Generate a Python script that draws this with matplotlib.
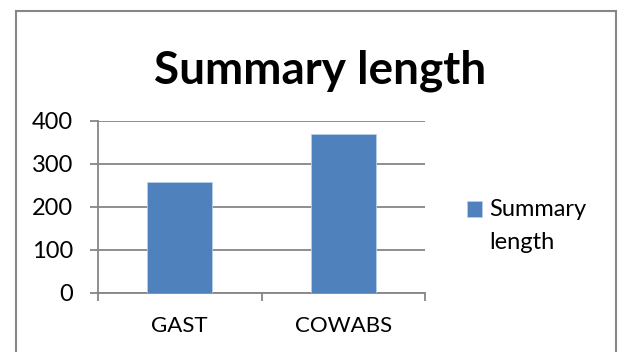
import matplotlib.pyplot as plt
from matplotlib.patches import Rectangle
from matplotlib.container import BarContainer
from matplotlib.legend_handler import HandlerPatch, update_from_first_child

# Data
categories = ['GAST', 'COWABS']
summary_length = [257, 370]
yticks = [0, 100, 200, 300, 400]

plt.rcParams['font.family'] = ['Lato', 'DejaVu Sans']

fig = plt.figure(figsize=(6.19, 3.52), dpi=100)
ax = fig.add_axes([0.158, 0.168, 0.529, 0.489])

grey = '#868686'
x = list(range(len(categories)))
ax.bar(x, summary_length, width=0.4, color='#4F81BD', edgecolor='#B9CDE5',
       linewidth=0.6, label='Summary\nlength', zorder=3)

ax.set_xlim(-0.5, len(categories) - 0.5)
ax.set_ylim(0, 400)
ax.set_yticks(yticks)
ax.yaxis.grid(True, color=grey, linewidth=1.3, zorder=0)

# category boundaries as major ticks, labels on minor ticks
ax.set_xticks([i - 0.5 for i in range(len(categories) + 1)])
ax.set_xticklabels([])
ax.set_xticks(x, minor=True)
ax.set_xticklabels(categories, minor=True, fontsize=16)
ax.tick_params(axis='x', which='major', length=6, color=grey, width=1.3)
ax.tick_params(axis='x', which='minor', length=0, pad=17)
ax.tick_params(axis='y', length=6, color=grey, width=1.3, labelsize=17, pad=12)

for s in ['top', 'right']:
    ax.spines[s].set_visible(False)
for s in ['left', 'bottom']:
    ax.spines[s].set_color(grey)
    ax.spines[s].set_linewidth(1.3)

fig.text(0.517, 0.798, 'Summary length', ha='center', va='center',
         fontsize=33, fontweight='bold')


# legend square next to the first line of the wrapped label
def top_square(legend, orig_handle, xdescent, ydescent, width, height, fontsize):
    return Rectangle((-xdescent, -ydescent + 12), width, height)


leg = ax.legend(loc='upper left', bbox_to_anchor=(0.754, 0.435),
                bbox_transform=fig.transFigure, frameon=False, fontsize=17,
                handlelength=0.65, handleheight=0.65, handletextpad=0.3,
                borderaxespad=0, borderpad=0,
                handler_map={BarContainer: HandlerPatch(
                    patch_func=top_square, update_func=update_from_first_child)})
for t in leg.get_texts():
    t.set_linespacing(1.7)

# outer chart border
fig.patches.append(Rectangle((16 / 619, -0.1), 600 / 619, 1.1 - 11 / 352,
                             transform=fig.transFigure, fill=False,
                             edgecolor=grey, linewidth=1.5))

plt.savefig('out.png', dpi=100)
